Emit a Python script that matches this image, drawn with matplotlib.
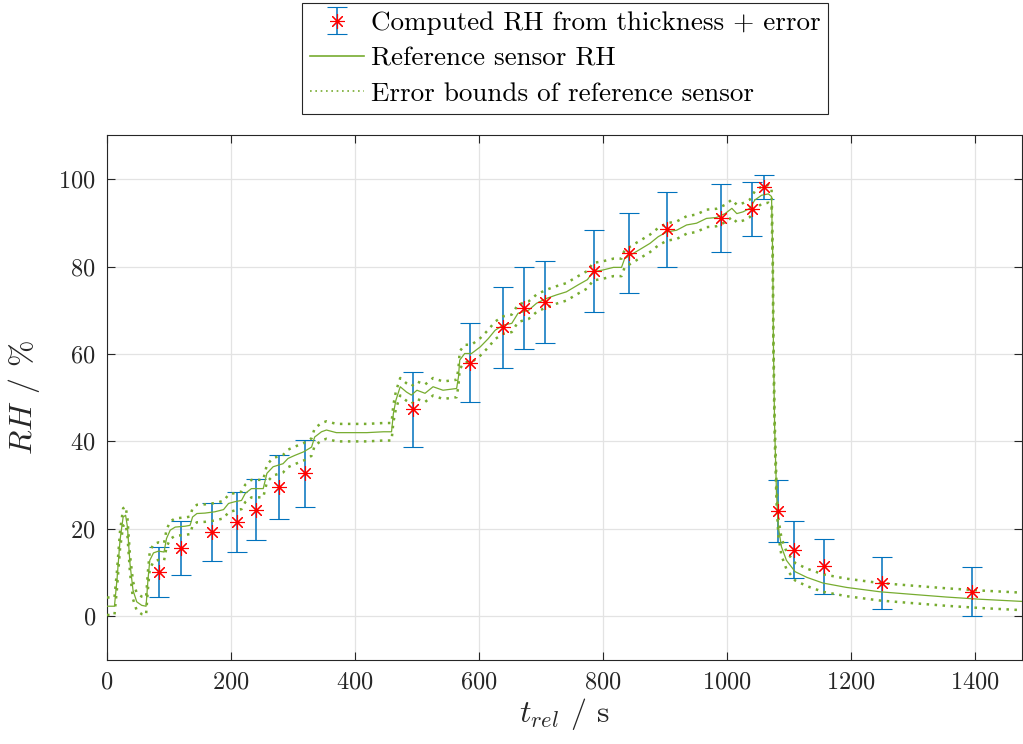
import matplotlib
matplotlib.use("Agg")
from matplotlib import pyplot as plt
import numpy as np

# computed RH points (from thickness) with error bars
t_pts = [84, 120, 170, 210, 241, 278, 320, 493, 586, 639, 672, 707, 786,
         842, 903, 990, 1040, 1060, 1082, 1109, 1156, 1251, 1395]
rh_pts = [10.1, 15.6, 19.3, 21.6, 24.4, 29.5, 32.7, 47.3, 58.0, 66.1, 70.5,
          71.9, 79.0, 83.1, 88.5, 91.1, 93.1, 98.2, 24.0, 15.2, 11.4, 7.6, 5.6]
rh_err = [5.8, 6.2, 6.6, 6.8, 7.0, 7.3, 7.6, 8.5, 9.0, 9.3, 9.3, 9.4, 9.4,
          9.2, 8.6, 7.8, 6.2, 2.8, 7.1, 6.5, 6.2, 5.9, 5.6]

# reference sensor trace
t_ref = [0, 12, 16, 21, 26, 30, 33, 37, 42, 48, 56, 63, 66, 69, 75, 83, 92,
         96, 102, 110, 126, 134, 138, 145, 158, 174, 188, 196, 206, 217, 223,
         233, 252, 258, 268, 284, 292, 303, 317, 330, 335, 346, 354, 370, 392,
         419, 446, 459, 462, 466, 473, 483, 491, 500, 513, 526, 542, 564, 567,
         569, 577, 588, 602, 615, 626, 639, 653, 663, 680, 693, 709, 725, 741,
         760, 775, 784, 800, 817, 830, 835, 849, 862, 876, 889, 903, 919, 935,
         951, 967, 983, 997, 1008, 1016, 1026, 1037, 1045, 1056, 1067, 1072,
         1074, 1075, 1077, 1080, 1083, 1088, 1096, 1110, 1129, 1155, 1193,
         1247, 1300, 1354, 1408, 1476]
rh_ref = [2.3, 2.3, 8.2, 17.4, 22.7, 23.1, 20.4, 12.1, 5.9, 3.3, 2.5, 2.3,
          8.2, 12.8, 14.5, 14.9, 14.7, 17.8, 19.7, 20.4, 20.6, 20.8, 22.7,
          23.5, 23.6, 23.9, 24.4, 25.8, 26.2, 26.5, 28.1, 29.2, 29.2, 32.7,
          34.2, 34.9, 36.1, 36.8, 37.6, 38.7, 41.0, 42.2, 42.6, 42.0, 42.0,
          42.0, 42.2, 42.2, 46.4, 49.4, 52.5, 51.3, 50.6, 51.7, 51.0, 52.5,
          51.7, 52.1, 54.8, 58.6, 60.1, 60.1, 61.6, 63.5, 65.4, 66.6, 67.0,
          69.3, 70.0, 71.6, 72.7, 73.5, 74.2, 75.8, 77.0, 78.8, 79.2, 79.8,
          79.8, 81.8, 83.0, 84.1, 85.3, 86.8, 87.9, 88.3, 89.5, 89.9, 91.0,
          91.2, 92.1, 93.3, 92.1, 92.5, 93.3, 95.2, 96.3, 96.6, 96.0, 81.5,
          62.4, 43.3, 28.1, 20.4, 15.9, 12.8, 10.2, 8.9, 7.6, 6.6, 5.6, 5.0,
          4.4, 3.9, 3.4]
ref_err = 2.0  # sensor accuracy, % RH

plt.rcParams['font.family'] = 'serif'
plt.rcParams['font.serif'] = ['cmr10']
plt.rcParams['mathtext.fontset'] = 'cm'
plt.rcParams['axes.formatter.use_mathtext'] = True

green = '#77AC30'
blue = '#0072BD'
dark = '#262626'

fig = plt.figure(figsize=(10.23, 7.44), dpi=100)
ax = fig.add_axes([0.1046, 0.1129, 0.8944, 0.7052])

eb = ax.errorbar(t_pts, rh_pts, yerr=rh_err, linestyle='none',
                 marker=(8, 2, 0), markersize=10.5, mec='red', mew=0.8,
                 ecolor=blue, elinewidth=1.1, capsize=7.5, capthick=1.1,
                 label='Computed RH from thickness + error', zorder=2)
eb[0].set_zorder(4)

rh_ref = np.array(rh_ref)
l1, = ax.plot(t_ref, rh_ref, color=green, lw=0.9, label='Reference sensor RH', zorder=3)
l2, = ax.plot(t_ref, rh_ref + ref_err, color=green, lw=1.8, ls=(0, (1, 2.2)),
              label='Error bounds of reference sensor', zorder=3)
ax.plot(t_ref, rh_ref - ref_err, color=green, lw=1.8, ls=(0, (1, 2.2)), zorder=3)

ax.set_xlim(0, 1476)
ax.set_ylim(-10, 110)
ax.set_xticks(range(0, 1401, 200))
ax.set_yticks(range(0, 101, 20))
ax.grid(True, color='#e3e3e3', lw=0.9)
ax.set_axisbelow(True)
ax.tick_params(direction='in', top=True, right=True, length=6, width=0.8,
               colors=dark, labelsize=17.5, pad=8)
for s in ax.spines.values():
    s.set_color(dark)
    s.set_linewidth(0.8)

ax.set_xlabel(r'$t_{rel}$ / s', fontsize=23, color=dark, labelpad=2)
ax.set_ylabel(r'$RH$ / %', fontsize=23, color=dark, labelpad=12)

leg = fig.legend([eb, l1, l2],
                 ['Computed RH from thickness + error', 'Reference sensor RH',
                  'Error bounds of reference sensor'],
                 loc='upper center', bbox_to_anchor=(0.5523, 0.996),
                 borderaxespad=0, fontsize=19.5, frameon=True, fancybox=False,
                 framealpha=1, edgecolor=dark, borderpad=0.3,
                 labelspacing=0.42, handlelength=2.0, handletextpad=0.25)
leg.get_frame().set_linewidth(0.8)
for h in leg.legend_handles[1:]:
    h.set_linewidth(1.2)

fig.savefig('out.png', dpi=100)
